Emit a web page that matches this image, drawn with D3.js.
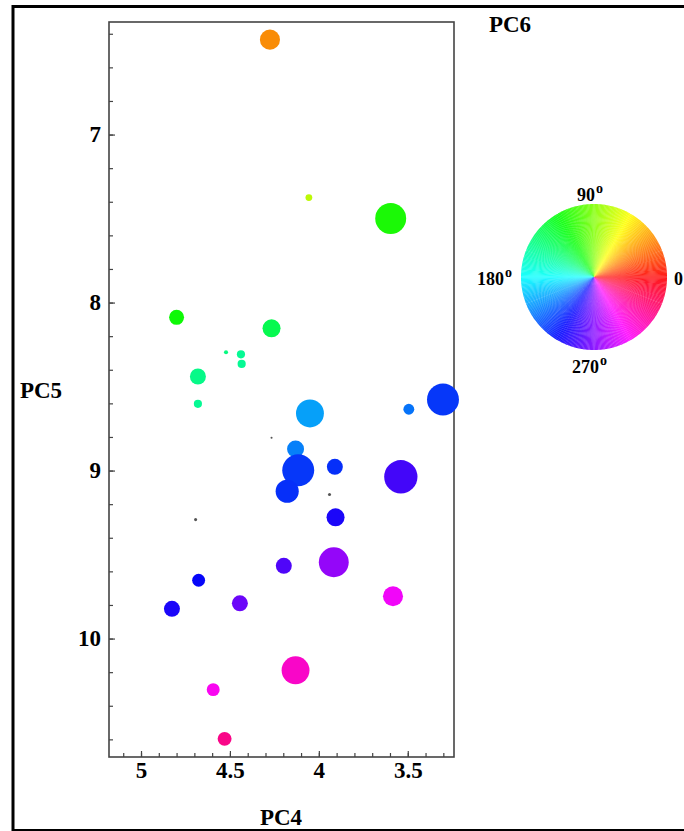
<!DOCTYPE html>
<html>
<head>
<meta charset="utf-8">
<script src="https://cdn.jsdelivr.net/npm/d3@7"></script>
<style>
  html, body { margin: 0; padding: 0; background: #fff; }
  svg { display: block; }
  text { font-family: "Liberation Serif", "Times New Roman", serif; font-weight: bold; fill: #000; }
</style>
</head>
<body>
<svg id="chart" width="684" height="831"></svg>
<script>
// ---- data ----
const pc4 = [4.275, 4.056, 3.596, 4.80, 4.266, 4.522, 4.438, 4.434, 4.68, 4.68,
             4.05, 3.494, 3.302, 4.266, 4.131, 4.116, 3.91, 3.539, 4.178, 3.94,
             4.693, 3.906, 3.916, 4.197, 4.676, 4.826, 4.444, 3.583, 4.131, 4.594, 4.53];
const pc5 = [6.435, 7.375, 7.50, 8.088, 8.153, 8.296, 8.308, 8.365, 8.44, 8.603,
             8.66, 8.635, 8.577, 8.805, 8.871, 8.998, 8.978, 9.037, 9.123, 9.143,
             9.292, 9.278, 9.546, 9.567, 9.653, 9.823, 9.79, 9.748, 10.189, 10.304, 10.597];
const amplitude = [0.59, 0.20, 0.91, 0.44, 0.53, 0.12, 0.24, 0.24, 0.47, 0.24,
                   0.82, 0.32, 0.94, 0.06, 0.50, 0.94, 0.47, 0.98, 0.68, 0.09,
                   0.09, 0.53, 0.88, 0.47, 0.38, 0.47, 0.47, 0.59, 0.82, 0.38, 0.41];
// PC6 phase angle in degrees (hue on the colour wheel)
const phase = [33, 75, 115, 118, 138, 150, 155, 155, 152, 155,
               202, 213, 228, 0, 210, 228, 230, 255, 230, 0,
               0, 245, 275, 258, 240, 245, 265, 298, 312, 302, 328];

const xMajor = [5, 4.5, 4, 3.5];
const yMajor = [7, 8, 9, 10];
const wheelLabels = [0, 90, 180, 270];

// ---- layout ----
const svg = d3.select("#chart");
const pLeft = 109, pRight = 454, pTop = 22, pBottom = 757;

const x = d3.scaleLinear().domain([5.18, 3.24]).range([pLeft, pRight]);
const y = d3.scaleLinear().domain([6.33, 10.705]).range([pTop, pBottom]);
const r = d3.scaleLinear().domain([0, 1]).range([0, 17]);

// outer border
svg.append("path")
  .attr("d", "M13,840 L13,6.5 L700,6.5")
  .attr("fill", "none").attr("stroke", "#000").attr("stroke-width", 3);
svg.append("line").attr("x1", 13).attr("x2", 700).attr("y1", 830).attr("y2", 830)
  .attr("stroke", "#000").attr("stroke-width", 2);

// plot frame
svg.append("rect")
  .attr("x", pLeft).attr("y", pTop)
  .attr("width", pRight - pLeft).attr("height", pBottom - pTop)
  .attr("fill", "none").attr("stroke", "#444").attr("stroke-width", 1.6);

// minor ticks
const xMinor = d3.range(51, 32, -1).map(v => v / 10);
const yMinor = d3.range(32, 54, 1).map(v => v / 5);

const axX = svg.append("g").attr("transform", `translate(0,${pBottom})`);
axX.call(d3.axisBottom(x).tickValues(xMinor).tickSizeInner(-4).tickSizeOuter(0).tickFormat(""));
axX.select(".domain").remove();
const axX2 = svg.append("g").attr("transform", `translate(0,${pBottom})`);
axX2.call(d3.axisBottom(x).tickValues(xMajor).tickSizeInner(-6).tickSizeOuter(0).tickPadding(5)
  .tickFormat(d3.format("")));
axX2.select(".domain").remove();

const axY = svg.append("g").attr("transform", `translate(${pLeft},0)`);
axY.call(d3.axisLeft(y).tickValues(yMinor).tickSizeInner(-4).tickSizeOuter(0).tickFormat(""));
axY.select(".domain").remove();
const axY2 = svg.append("g").attr("transform", `translate(${pLeft},0)`);
axY2.call(d3.axisLeft(y).tickValues(yMajor).tickSizeInner(-6).tickSizeOuter(0).tickPadding(8)
  .tickFormat(d3.format("")));
axY2.select(".domain").remove();

svg.selectAll(".tick line").attr("stroke", "#444").attr("stroke-width", 1.2);
svg.selectAll(".tick text")
  .attr("font-family", "Liberation Serif, serif")
  .attr("font-weight", "bold").attr("font-size", 23).attr("fill", "#000");

// axis titles
svg.append("text").attr("x", 281).attr("y", 825).attr("text-anchor", "middle")
  .attr("font-size", 23).text("PC4");
svg.append("text").attr("x", 41).attr("y", 398).attr("text-anchor", "middle")
  .attr("font-size", 23).text("PC5");
svg.append("text").attr("x", 510).attr("y", 32).attr("text-anchor", "middle")
  .attr("font-size", 23).text("PC6");

// points
const colorOf = (h, a) => a < 0.1 ? "#555" : d3.hsl(h, 0.95, 0.5).formatHex();
const pts = pc4.map((v, i) => ({ x: v, y: pc5[i], a: amplitude[i], h: phase[i] }));
svg.append("g").selectAll("circle").data(pts).join("circle")
  .attr("cx", d => x(d.x)).attr("cy", d => y(d.y))
  .attr("r", d => Math.max(1, r(d.a)))
  .attr("fill", d => colorOf(d.h, d.a));

// colour wheel legend
const wc = [594, 277], wr = 73;
const wheel = svg.append("g").attr("transform", `translate(${wc[0]},${wc[1]})`);
const hues = d3.range(0, 360, 1);
const arc = d3.arc().innerRadius(0).outerRadius(wr);
wheel.selectAll("path").data(hues).join("path")
  .attr("d", h => arc({
    startAngle: (90 - h - 0.6) * Math.PI / 180,
    endAngle: (90 - h + 0.6) * Math.PI / 180
  }))
  .attr("fill", h => d3.hsl(h, 1, 0.55).formatHex());

const labelPos = {
  0:   { x: 674, y: 285 },
  90:  { x: 577, y: 201 },
  180: { x: 477, y: 285 },
  270: { x: 572, y: 373 }
};
wheelLabels.forEach(a => {
  const p = labelPos[a];
  const t = svg.append("text").attr("x", p.x).attr("y", p.y)
    .attr("text-anchor", "start").attr("font-size", 18);
  t.append("tspan").text(a);
  t.append("tspan").attr("font-size", 14).attr("dx", 1).attr("dy", -8).text("o");
});
</script>
</body>
</html>
